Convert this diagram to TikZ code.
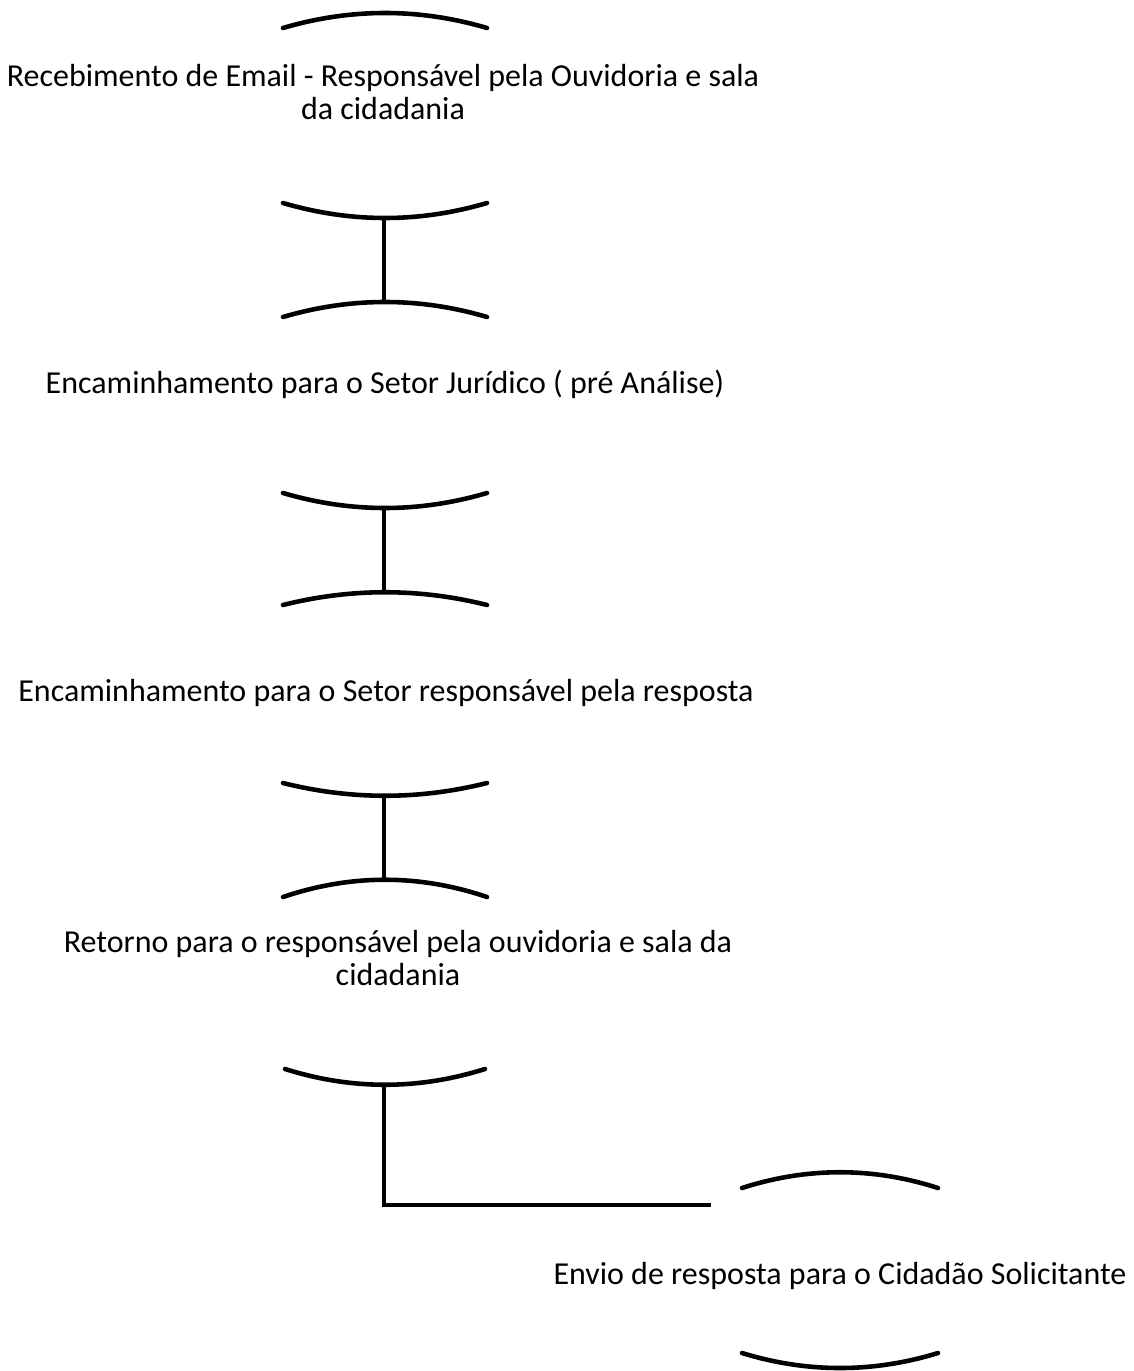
\documentclass[tikz,border=0pt]{standalone}
\usepackage{fontspec}
\setmainfont{Carlito}
\usetikzlibrary{calc}
\tikzset{
  every picture/.style={
    line cap=round
  },
  rim/.style={
    line width=2.6pt
  },
  link/.style={
    line width=2pt, line cap=rect
  },
  steptext/.style={
    align=center, inner sep=0pt,
    font=\fontsize{18.2}{18.8}\selectfont
  }
}
\begin{document}
\begin{tikzpicture}[x=0.02cm, y=-0.02cm]
      \useasboundingbox (0,0) rectangle (1133,1371);
      % etapa 1
      \draw[rim] (283,28) .. controls (351,8) and (419,8) .. (487,28);
      \node[steptext] (s1) at (383,92) {Recebimento de Email - Responsável pela Ouvidoria e sala\\da cidadania};
      \draw[rim] (283,203) .. controls (351,223) and (419,223) .. (487,203);
      \coordinate (s1b) at (384,218);
      % etapa 2
      \coordinate (s2t) at (384,302);
      \draw[rim] (283,317) .. controls (351,297) and (419,297) .. (487,317);
      \node[steptext] (s2) at (385,384) {Encaminhamento para o Setor Jurídico ( pré Análise)};
      \draw[rim] (283,493) .. controls (351,513) and (419,513) .. (487,493);
      \coordinate (s2b) at (384,508);
      % etapa 3
      \coordinate (s3t) at (384,592);
      \draw[rim] (283,605) .. controls (351,588) and (419,588) .. (487,605);
      \node[steptext] (s3) at (386,693) {Encaminhamento para o Setor responsável pela resposta};
      \draw[rim] (283,783) .. controls (351,800) and (419,800) .. (487,783);
      \coordinate (s3b) at (384,796);
      % etapa 4
      \coordinate (s4t) at (384,880);
      \draw[rim] (283,897) .. controls (351,874) and (419,874) .. (487,897);
      \node[steptext] (s4) at (398,958) {Retorno para o responsável pela ouvidoria e sala da\\cidadania};
      \draw[rim] (285,1069) .. controls (352,1090) and (418,1090) .. (485,1069);
      \coordinate (s4b) at (384,1085);
      % etapa 5
      \coordinate (e5) at (709,1205);
      \draw[rim] (742,1188) .. controls (807,1167) and (873,1167) .. (938,1188);
      \node[steptext] (s5) at (840,1276) {Envio de resposta para o Cidadão Solicitante};
      \draw[rim] (742,1353) .. controls (807,1373) and (873,1373) .. (938,1353);
      % ligacoes
      \draw[link] (s1b) -- (s2t);
      \draw[link] (s2b) -- (s3t);
      \draw[link] (s3b) -- (s4t);
      \draw[link] (s4b) |- (e5);
    \end{tikzpicture}
\end{document}
